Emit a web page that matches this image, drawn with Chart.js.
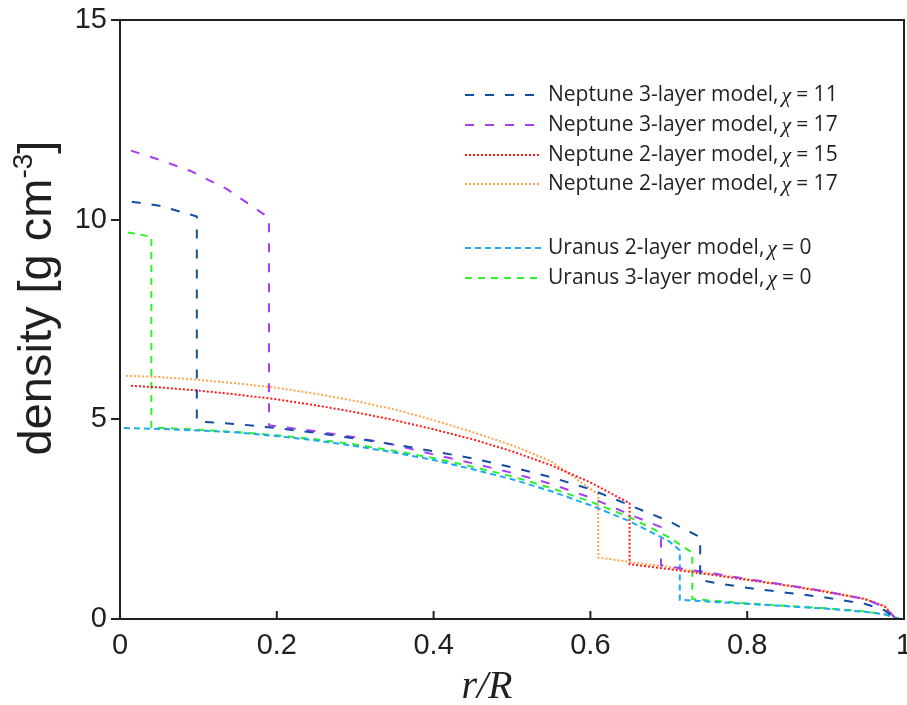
<!DOCTYPE html>
<html>
<head>
<meta charset="utf-8">
<script src="https://cdn.jsdelivr.net/npm/chart.js@4"></script>
<style>
  html, body { margin: 0; padding: 0; background: #fff; }
  #wrap { width: 907px; height: 705px; }
</style>
</head>
<body>
<div id="wrap"><canvas id="densityChart" width="907" height="705"></canvas></div>
<script>
// radius r/R and density [g cm^-3]
const nep3_11_r   = [0.015, 0.05, 0.098, 0.098, 0.15, 0.2, 0.25, 0.3, 0.35, 0.4, 0.45, 0.5, 0.55, 0.6, 0.65, 0.7, 0.74, 0.74, 0.76, 0.8, 0.85, 0.9, 0.95, 0.975, 0.99];
const nep3_11_rho = [10.45, 10.35, 10.08, 4.95, 4.88, 4.78, 4.66, 4.52, 4.37, 4.2, 4.02, 3.8, 3.55, 3.25, 2.85, 2.45, 2.05, 0.98, 0.9, 0.78, 0.66, 0.54, 0.38, 0.22, 0.0];

const nep3_17_r   = [0.014, 0.05, 0.09, 0.136, 0.19, 0.19, 0.25, 0.3, 0.35, 0.4, 0.45, 0.5, 0.55, 0.6, 0.65, 0.69, 0.69, 0.75, 0.8, 0.85, 0.9, 0.95, 0.975, 0.99];
const nep3_17_rho = [11.73, 11.5, 11.22, 10.77, 10.05, 4.85, 4.7, 4.55, 4.36, 4.12, 3.9, 3.66, 3.38, 3.04, 2.62, 2.3, 1.35, 1.16, 1.0, 0.85, 0.69, 0.5, 0.3, 0.0];

const nep2_15_r   = [0.014, 0.05, 0.1, 0.15, 0.2, 0.25, 0.3, 0.35, 0.4, 0.45, 0.5, 0.55, 0.6, 0.65, 0.65, 0.7, 0.75, 0.8, 0.85, 0.9, 0.95, 0.975, 0.99];
const nep2_15_rho = [5.84, 5.8, 5.72, 5.62, 5.5, 5.35, 5.18, 4.98, 4.75, 4.5, 4.2, 3.85, 3.42, 2.9, 1.37, 1.25, 1.12, 0.98, 0.84, 0.68, 0.5, 0.32, 0.0];

const nep2_17_r   = [0.008, 0.05, 0.1, 0.15, 0.2, 0.25, 0.3, 0.35, 0.4, 0.45, 0.5, 0.55, 0.61, 0.61, 0.65, 0.7, 0.75, 0.8, 0.85, 0.9, 0.95, 0.975, 0.99];
const nep2_17_rho = [6.09, 6.06, 5.99, 5.9, 5.79, 5.64, 5.46, 5.25, 4.98, 4.68, 4.35, 3.95, 3.12, 1.54, 1.43, 1.3, 1.15, 1.0, 0.85, 0.7, 0.51, 0.33, 0.0];

const ura2_r   = [0.005, 0.05, 0.1, 0.15, 0.2, 0.25, 0.3, 0.35, 0.4, 0.45, 0.5, 0.55, 0.6, 0.65, 0.7, 0.714, 0.714, 0.8, 0.9, 0.95, 0.975, 0.995];
const ura2_rho = [4.78, 4.76, 4.72, 4.67, 4.58, 4.47, 4.33, 4.17, 3.98, 3.75, 3.5, 3.2, 2.85, 2.45, 1.95, 1.72, 0.48, 0.38, 0.26, 0.18, 0.12, 0.0];

const ura3_r   = [0.01, 0.04, 0.04, 0.1, 0.15, 0.2, 0.25, 0.3, 0.35, 0.4, 0.45, 0.5, 0.55, 0.6, 0.65, 0.7, 0.73, 0.73, 0.8, 0.9, 0.95, 0.975, 0.995];
const ura3_rho = [9.68, 9.57, 4.8, 4.74, 4.68, 4.6, 4.5, 4.37, 4.21, 4.03, 3.81, 3.57, 3.28, 2.94, 2.55, 2.05, 1.66, 0.5, 0.39, 0.27, 0.19, 0.12, 0.0];

const xTicks = [0, 0.2, 0.4, 0.6, 0.8, 1];
const yTicks = [0, 5, 10, 15];

const seriesNames = [
  ['Neptune 3-layer model,', '11'],
  ['Neptune 3-layer model,', '17'],
  ['Neptune 2-layer model,', '15'],
  ['Neptune 2-layer model,', '17'],
  ['Uranus 2-layer model,', '0'],
  ['Uranus 3-layer model,', '0']
];

function toPoints(rs, vals) {
  return rs.map((r, i) => ({ x: r, y: vals[i] }));
}

function makeSet(idx, rs, vals, color, dash) {
  return {
    label: seriesNames[idx][0] + ' χ = ' + seriesNames[idx][1],
    data: toPoints(rs, vals),
    borderColor: color,
    borderWidth: 2,
    borderDash: dash,
    borderCapStyle: 'butt',
    pointRadius: 0,
    tension: 0,
    fill: false
  };
}

const datasets = [
  makeSet(0, nep3_11_r, nep3_11_rho, '#124ea3', [9, 11]),
  makeSet(1, nep3_17_r, nep3_17_rho, '#a83cf5', [9, 11]),
  makeSet(2, nep2_15_r, nep2_15_rho, '#ff1a1a', [2, 2]),
  makeSet(3, nep2_17_r, nep2_17_rho, '#ffa54a', [2, 2]),
  makeSet(4, ura2_r, ura2_rho, '#1fa9ef', [6, 4]),
  makeSet(5, ura3_r, ura3_rho, '#2ef02e', [7, 6])
];

const AXIS = '#231f20';
const legendRows = [95, 125, 155, 184, 248, 278];

// frame, inward x ticks, legend and axis titles
const decorations = {
  id: 'decorations',
  afterDraw(chart) {
    const ctx = chart.ctx;
    const a = chart.chartArea;
    const xs = chart.scales.x;
    ctx.save();
    ctx.strokeStyle = AXIS;
    ctx.lineWidth = 2;
    ctx.setLineDash([]);
    ctx.strokeRect(a.left, a.top, a.right - a.left, a.bottom - a.top);

    xTicks.forEach(v => {
      const px = xs.getPixelForValue(v);
      ctx.beginPath();
      ctx.moveTo(px, a.bottom);
      ctx.lineTo(px, a.bottom - 8);
      ctx.stroke();
    });

    // legend
    chart.data.datasets.forEach((ds, i) => {
      const y = legendRows[i];
      ctx.strokeStyle = ds.borderColor;
      ctx.lineWidth = 2;
      ctx.lineCap = 'butt';
      ctx.setLineDash(ds.borderDash);
      ctx.beginPath();
      ctx.moveTo(465, y);
      ctx.lineTo(541, y);
      ctx.stroke();
      ctx.setLineDash([]);

      ctx.fillStyle = '#231f20';
      ctx.textBaseline = 'middle';
      ctx.textAlign = 'left';
      let x = 548;
      ctx.font = '21px "Open Sans"';
      ctx.fillText(seriesNames[i][0], x, y);
      x += ctx.measureText(seriesNames[i][0]).width + 3;
      ctx.font = 'italic 22px "Liberation Serif"';
      ctx.fillText('χ', x, y + 1);
      x += ctx.measureText('χ').width + 5;
      ctx.font = '21px "Open Sans"';
      ctx.fillText('= ' + seriesNames[i][1], x, y);
    });

    // y title with superscript
    ctx.translate(51, 298);
    ctx.rotate(-Math.PI / 2);
    ctx.fillStyle = '#231f20';
    ctx.textBaseline = 'alphabetic';
    const big = '47px "Liberation Sans"';
    const small = '28px "Liberation Sans"';
    ctx.font = big;
    const main = 'density [g cm';
    const sup = '-3';
    const tail = ']';
    const w1 = ctx.measureText(main).width;
    ctx.font = small;
    const w2 = ctx.measureText(sup).width;
    ctx.font = big;
    const w3 = ctx.measureText(tail).width;
    let tx = -(w1 + w2 + w3) / 2;
    ctx.fillText(main, tx, 0);
    tx += w1;
    ctx.font = small;
    ctx.fillText(sup, tx, -19);
    tx += w2;
    ctx.font = big;
    ctx.fillText(tail, tx, 0);
    ctx.restore();

    // x title
    ctx.save();
    ctx.fillStyle = '#231f20';
    ctx.font = 'italic 40px "Liberation Serif"';
    ctx.textAlign = 'center';
    ctx.textBaseline = 'alphabetic';
    ctx.fillText('r/R', 487, 698);
    ctx.restore();
  }
};

new Chart(document.getElementById('densityChart').getContext('2d'), {
  type: 'line',
  data: { datasets: datasets },
  options: {
    responsive: false,
    animation: false,
    layout: { autoPadding: false, padding: { top: 20, right: 3, left: 0, bottom: 0 } },
    plugins: {
      legend: { display: false },
      tooltip: { enabled: false }
    },
    scales: {
      x: {
        type: 'linear',
        min: 0,
        max: 1,
        afterFit: s => { s.height = 86; s.paddingLeft = 0; s.paddingRight = 0; },
        afterBuildTicks: s => { s.ticks = xTicks.map(v => ({ value: v })); },
        grid: { display: false, drawTicks: false },
        border: { display: true, color: AXIS, width: 2 },
        ticks: {
          padding: 10,
          color: '#231f20',
          font: { family: 'Liberation Sans', size: 29 },
          maxRotation: 0,
          callback: v => String(v)
        }
      },
      y: {
        type: 'linear',
        min: 0,
        max: 15,
        afterFit: s => { s.width = 120; s.paddingTop = 0; s.paddingBottom = 0; },
        afterBuildTicks: s => { s.ticks = yTicks.map(v => ({ value: v })); },
        grid: { display: true, drawOnChartArea: false, drawTicks: true, tickLength: 9, color: AXIS, lineWidth: 2 },
        border: { display: true, color: AXIS, width: 2 },
        ticks: {
          padding: 4,
          color: '#231f20',
          font: { family: 'Liberation Sans', size: 29 },
          callback: v => String(v)
        }
      }
    }
  },
  plugins: [decorations]
});
</script>
</body>
</html>
